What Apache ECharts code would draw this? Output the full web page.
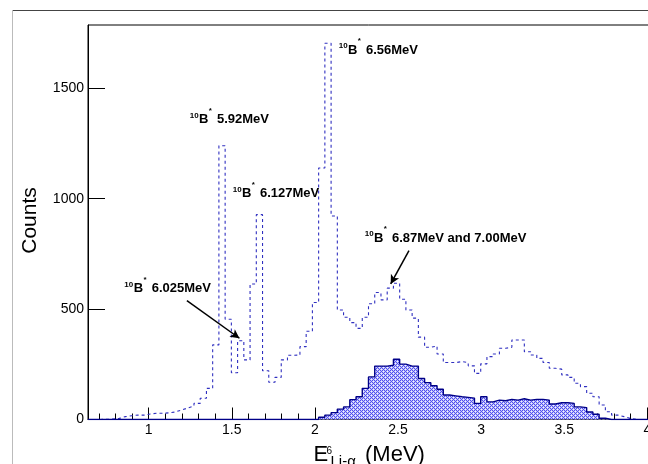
<!DOCTYPE html>
<html>
<head>
<meta charset="utf-8">
<script src="https://cdn.jsdelivr.net/npm/echarts@6/dist/echarts.min.js"></script>
<style>
  html, body { margin: 0; padding: 0; background: #fff; }
  #chart { width: 648px; height: 464px; }
</style>
</head>
<body>
<div id="chart"></div>
<script>
// Histogram binning (MeV)
const binStart = 0.635;
const binWidth = 0.0375;
const xMin = 0.635;
const xMax = 4.01;
const yMax = 1787;

// Counts per bin, all events (dashed histogram)
const allCounts = [
  0, 0, 1, 2, 5, 13, 17, 20, 20, 25,
  28, 28, 30, 34, 43, 52, 61, 73, 96, 141,
  338, 1240, 454, 212, 357, 270, 614, 928, 221, 169,
  191, 270, 291, 292, 330, 400, 530, 1139, 1704, 922,
  496, 463, 439, 413, 463, 524, 575, 542, 595, 617,
  545, 496, 459, 373, 327, 333, 297, 258, 258, 262,
  258, 243, 209, 252, 285, 297, 323, 327, 360, 360,
  307, 292, 277, 258, 232, 228, 202, 191, 164, 149,
  119, 103, 66, 35, 20, 13, 5, 0, 0, 0
];

// Counts per bin, selected events (filled histogram)
const selectedCounts = [
  0, 0, 0, 0, 0, 0, 0, 0, 0, 0,
  0, 0, 0, 0, 0, 0, 0, 0, 0, 0,
  0, 0, 0, 0, 0, 0, 0, 0, 0, 0,
  0, 0, 0, 0, 0, 0, 0, 10, 20, 31,
  47, 57, 90, 103, 141, 193, 242, 242, 246, 273,
  251, 242, 242, 186, 167, 153, 137, 111, 107, 103,
  100, 97, 73, 103, 80, 88, 85, 91, 88, 94,
  88, 91, 91, 88, 70, 76, 76, 73, 57, 54,
  34, 24, 6, 0, 0, 0, 0, 0, 0, 0
];

const xTickValues = [1, 1.5, 2, 2.5, 3, 3.5, 4];
const xMinorTickValues = [0.7, 0.8, 0.9, 1.1, 1.2, 1.3, 1.4, 1.6, 1.7, 1.8, 1.9,
  2.1, 2.2, 2.3, 2.4, 2.6, 2.7, 2.8, 2.9, 3.1, 3.2, 3.3, 3.4, 3.6, 3.7, 3.8, 3.9];
const yTickValues = [0, 500, 1000, 1500];

// Peak labels: excitation level of 10B and the anchor (left, vertical centre) in data units
const peakLabels = [
  { level: '5.92MeV', at: [1.2467, 1358] },
  { level: '6.56MeV', at: [2.1432, 1674] },
  { level: '6.127MeV', at: [1.5054, 1023] },
  { level: '6.025MeV', at: [0.8538, 593] },
  { level: '6.87MeV and 7.00MeV', at: [2.2996, 821] }
];
// Arrows from label to peak: [tail, head] in data units
const arrows = [
  [[1.230, 538], [1.546, 368]],
  [[2.566, 765], [2.456, 614]]
];

const FONT = '"Liberation Sans", Arial, Helvetica, sans-serif';

// Turn per-bin counts into step-line points at the bin low edges
function toSteps(counts) {
  const pts = counts.map((v, i) => [binStart + i * binWidth, v]);
  pts.push([binStart + counts.length * binWidth, counts[counts.length - 1]]);
  return pts;
}

// Dotted fill for the selected-events histogram (4x4 tile)
const fillTile = document.createElement('canvas');
fillTile.width = 4; fillTile.height = 4;
const ft = fillTile.getContext('2d');
ft.fillStyle = '#c4c4fb'; ft.fillRect(0, 0, 4, 4);
ft.fillStyle = '#5050ee';
[[0, 0], [2, 0], [1, 1], [3, 1], [0, 2], [2, 2], [1, 3], [3, 3]].forEach(([i, j]) => ft.fillRect(i, j, 1, 1));
ft.fillStyle = '#f0f0ff';
[[1, 1], [3, 3]].forEach(([i, j]) => ft.fillRect(i, j, 1, 1));

const chart = echarts.init(document.getElementById('chart'), null, { renderer: 'canvas' });

chart.setOption({
  animation: false,
  backgroundColor: '#fff',
  grid: {
    left: 88, top: 25, right: -1, bottom: 44.5,
    show: true, borderColor: '#000', borderWidth: 1,
    outerBoundsMode: 'none'
  },
  xAxis: [
    {
      type: 'value', min: xMin, max: xMax,
      axisLine: { show: true, lineStyle: { color: '#000', width: 1 } },
      axisTick: { show: true, inside: true, length: 12, customValues: xTickValues, lineStyle: { color: '#000' } },
      axisLabel: { customValues: xTickValues, fontSize: 14, color: '#000', fontFamily: FONT, margin: 4, formatter: v => String(v) },
      splitLine: { show: false }
    },
    {
      type: 'value', min: xMin, max: xMax, position: 'bottom', gridIndex: 0,
      axisLine: { show: false },
      axisTick: { show: true, inside: true, length: 6, customValues: xMinorTickValues, lineStyle: { color: '#000' } },
      axisLabel: { show: false },
      splitLine: { show: false }
    }
  ],
  yAxis: {
    type: 'value', min: 0, max: yMax,
    axisLine: { show: true, lineStyle: { color: '#000', width: 1 } },
    axisTick: { show: true, inside: true, length: 17, customValues: yTickValues, lineStyle: { color: '#000' } },
    axisLabel: { customValues: yTickValues, fontSize: 14, color: '#000', fontFamily: FONT, margin: 4, formatter: v => String(v) },
    splitLine: { show: false }
  },
  series: [
    {
      name: 'all',
      type: 'line',
      step: 'end',
      symbol: 'none',
      data: toSteps(allCounts),
      lineStyle: { color: '#2f2fc0', width: 1.1, type: [3, 3] },
      z: 2
    },
    {
      name: 'selected',
      type: 'line',
      step: 'end',
      symbol: 'none',
      data: toSteps(selectedCounts),
      lineStyle: { color: '#000088', width: 1.4 },
      areaStyle: { color: { image: fillTile, repeat: 'repeat' }, opacity: 1 },
      z: 3,
      markLine: {
        silent: true,
        animation: false,
        symbol: ['none', 'arrow'],
        symbolSize: [7, 9],
        label: { show: false },
        lineStyle: { color: '#000', width: 1.5, type: 'solid' },
        data: arrows.map(([a, b]) => [{ coord: a }, { coord: b }])
      }
    }
  ]
});

// Text pieces measured on an offscreen canvas
const measureCtx = document.createElement('canvas').getContext('2d');
function textWidth(str, size, weight) {
  measureCtx.font = `${weight} ${size}px ${FONT}`;
  return measureCtx.measureText(str).width;
}
function piece(str, x, y, size, weight) {
  return {
    type: 'text', x, y,
    style: { text: str, fontSize: size, fontWeight: weight, fontFamily: FONT, fill: '#000', align: 'left', verticalAlign: 'middle' }
  };
}

// "10B* <level>" labels
const labelGraphics = peakLabels.map(p => {
  const [px, py] = chart.convertToPixel({ gridIndex: 0 }, p.at);
  const supW = textWidth('10', 8, 'bold');
  const bW = textWidth('B', 13, 'bold');
  const bX = supW + 0.5;
  return {
    type: 'group', x: px, y: py, silent: true,
    children: [
      piece('10', 0, -4, 8, 'bold'),
      piece('B', bX, 0, 13, 'bold'),
      piece('*', bX + bW + 0.3, -9, 8, 'bold'),
      piece(p.level, bX + bW + 8.5, 0, 13, 'bold')
    ]
  };
});

// Axis titles and pad border
const extraGraphics = [
  { type: 'line', shape: { x1: 12, y1: 10.5, x2: 648, y2: 10.5 }, style: { stroke: '#444', lineWidth: 1 }, silent: true },
  { type: 'line', shape: { x1: 12.5, y1: 10, x2: 12.5, y2: 464 }, style: { stroke: '#bbb', lineWidth: 1 }, silent: true },
  {
    type: 'text', x: 30.7, y: 220.5, rotation: Math.PI / 2, silent: true,
    style: { text: 'Counts', fontSize: 21, fontFamily: FONT, fill: '#000', align: 'center', verticalAlign: 'middle' }
  },
  {
    type: 'group', x: 313.5, y: 454.5, silent: true,
    children: [
      { type: 'text', x: 0, y: 0, style: { text: 'E', fontSize: 22, fontFamily: FONT, fill: '#000', align: 'left', verticalAlign: 'middle' } },
      { type: 'text', x: 13, y: -3, style: { text: '6', fontSize: 10, fontFamily: FONT, fill: '#000', align: 'left', verticalAlign: 'middle' } },
      { type: 'text', x: 17, y: 7.5, style: { text: 'Li-\u03b1', fontSize: 15, fontFamily: FONT, fill: '#000', align: 'left', verticalAlign: 'middle' } },
      { type: 'text', x: 51.5, y: 0, style: { text: '(MeV)', fontSize: 22, fontFamily: FONT, fill: '#000', align: 'left', verticalAlign: 'middle' } }
    ]
  }
];

chart.setOption({ graphic: extraGraphics.concat(labelGraphics) });
</script>
</body>
</html>
